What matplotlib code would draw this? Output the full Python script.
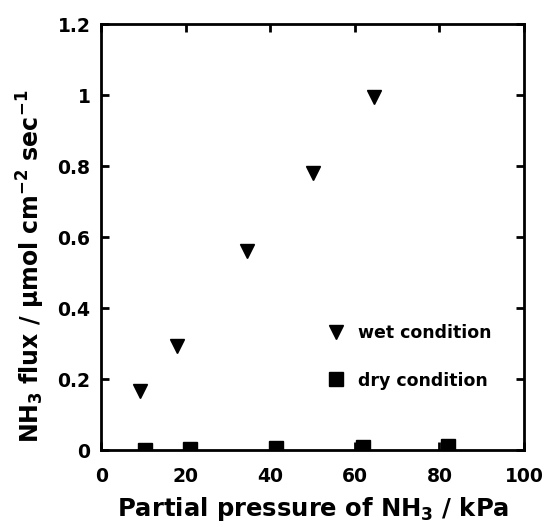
import matplotlib
matplotlib.use("Agg")
import matplotlib.pyplot as plt
from matplotlib.ticker import FuncFormatter

plt.rcParams['font.family'] = ['DejaVu Sans']
plt.rcParams['font.weight'] = 'bold'
plt.rcParams['mathtext.fontset'] = 'dejavusans'
plt.rcParams['mathtext.default'] = 'bf'

wet_x = [9.0, 17.8, 34.4, 50.0, 64.6]
wet_y = [0.167, 0.293, 0.56, 0.78, 0.995]
dry_x = [10.4, 20.9, 41.3, 61.8, 82.1]
dry_y = [0.0, 0.002, 0.005, 0.009, 0.012]

x_ticks = [0, 20, 40, 60, 80, 100]
y_ticks = [0, 0.2, 0.4, 0.6, 0.8, 1.0, 1.2]

fig = plt.figure(figsize=(5.48, 5.27), dpi=100)
ax = fig.add_axes([0.1852, 0.1461, 0.771, 0.8083])

ax.plot(wet_x, wet_y, linestyle='none', marker='v', color='black', markersize=10,
        label='wet condition')
ax.plot(dry_x, dry_y, linestyle='none', marker='s', color='black', markersize=10.5,
        label='dry condition')

ax.set_xlim(0, 100)
ax.set_ylim(0, 1.2)
ax.set_xticks(x_ticks)
ax.set_yticks(y_ticks)
ax.yaxis.set_major_formatter(FuncFormatter(lambda v, p: ('%g' % round(v, 2))))
ax.tick_params(direction='in', length=6, width=2, top=True, right=True,
               labelsize=13.5)
ax.tick_params(axis='x', pad=12)
ax.tick_params(axis='y', pad=8)
for lab in ax.get_xticklabels() + ax.get_yticklabels():
    lab.set_fontweight('bold')
for s in ax.spines.values():
    s.set_linewidth(2)

ax.set_xlabel('Partial pressure of NH$_3$ / kPa', fontsize=17.5, fontweight='bold', labelpad=7)
ax.set_ylabel('NH$_3$ flux / µmol cm$^{-2}$ sec$^{-1}$', fontsize=17, fontweight='bold')
ax.yaxis.set_label_coords(-0.128, 0.43)

leg = ax.legend(loc='upper left', bbox_to_anchor=(0.513, 0.312), frameon=False,
                fontsize=12.5, handlelength=1.2, handletextpad=0.7, labelspacing=1.7,
                borderaxespad=0)
for t in leg.get_texts():
    t.set_fontweight('bold')

fig.savefig('out.png', dpi=100)
